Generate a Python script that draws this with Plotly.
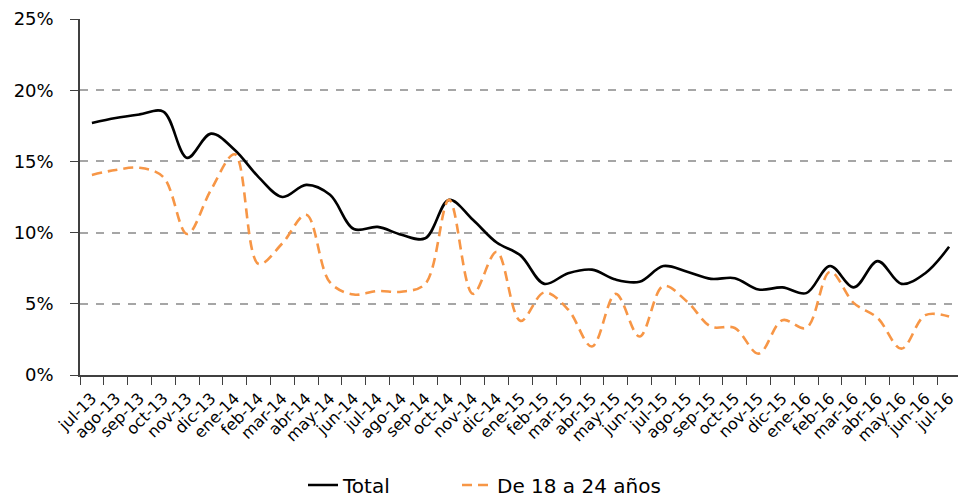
import plotly.graph_objects as go

months = ["jul-13", "ago-13", "sep-13", "oct-13", "nov-13", "dic-13",
          "ene-14", "feb-14", "mar-14", "abr-14", "may-14", "jun-14",
          "jul-14", "ago-14", "sep-14", "oct-14", "nov-14", "dic-14",
          "ene-15", "feb-15", "mar-15", "abr-15", "may-15", "jun-15",
          "jul-15", "ago-15", "sep-15", "oct-15", "nov-15", "dic-15",
          "ene-16", "feb-16", "mar-16", "abr-16", "may-16", "jun-16", "jul-16"]

total = [17.7, 18.05, 18.3, 18.5, 15.25, 16.95,
         15.8, 13.9, 12.5, 13.35, 12.65, 10.25,
         10.4, 9.85, 9.6, 12.3, 10.9, 9.3,
         8.4, 6.4, 7.15, 7.4, 6.7, 6.55,
         7.65, 7.25, 6.75, 6.8, 6.0, 6.15,
         5.75, 7.65, 6.15, 8.0, 6.4, 7.15, 9.0]

jovenes = [14.05, 14.4, 14.55, 13.9, 9.9, 13.0,
           15.5, 7.8, 9.25, 11.25, 6.5, 5.65,
           5.9, 5.85, 6.4, 12.3, 5.7, 8.65,
           3.8, 5.8, 4.6, 2.0, 5.7, 2.7,
           6.25, 5.15, 3.4, 3.3, 1.5, 3.85,
           3.3, 7.25, 5.05, 4.0, 1.85, 4.2, 4.1]

y_ticks = [0, 5, 10, 15, 20, 25]
y_labels = ["0%", "5%", "10%", "15%", "20%", "25%"]

FONT = "DejaVu Sans"
# page body has an 8px margin; size the figure so it fits the 966x498 window
W, H = 958, 490

fig = go.Figure()
fig.add_trace(go.Scatter(
    x=months, y=total, name="Total", mode="lines", legend="legend",
    line=dict(color="#000000", width=2.6, shape="spline", smoothing=1.0),
))
fig.add_trace(go.Scatter(
    x=months, y=jovenes, name="De 18 a 24 años", mode="lines", legend="legend2",
    line=dict(color="#F79646", width=2.6, shape="spline", smoothing=1.0, dash="10px,6px"),
))

leg_common = dict(orientation="h", yref="container", xref="container",
                  y=(H - 477) / H, yanchor="middle", xanchor="left",
                  font=dict(size=20, family=FONT, color="#000000"),
                  bgcolor="rgba(0,0,0,0)", borderwidth=0)

fig.update_layout(
    width=W, height=H,
    margin=dict(l=72, r=5, t=11, b=123),
    paper_bgcolor="white", plot_bgcolor="white",
    font=dict(family=FONT, color="#000000"),
    showlegend=True,
    legend=dict(x=295 / W, **leg_common),
    legend2=dict(x=449 / W, **leg_common),
    xaxis=dict(
        type="category", range=[-0.5, 36.5], automargin=False,
        tickangle=-45, tickfont=dict(size=16, family=FONT, color="#000000"),
        ticklabelstandoff=6,
        showgrid=False, showline=True, linecolor="#404040", linewidth=1.5,
        ticks="outside", tickson="boundaries", ticklen=8, tickcolor="#404040", tickwidth=1.2,
        zeroline=False,
    ),
    yaxis=dict(
        range=[0, 25], tickvals=y_ticks, ticktext=y_labels, automargin=False,
        tickfont=dict(size=18, family=FONT, color="#000000"),
        ticklabelstandoff=13,
        showgrid=True, gridcolor="#A6A6A6", griddash="8px,8px", gridwidth=1.5,
        showline=True, linecolor="#404040", linewidth=1.5,
        ticks="outside", ticklen=8, tickcolor="#404040", tickwidth=1.2,
        zeroline=False,
    ),
)

fig.write_html("out.html")
